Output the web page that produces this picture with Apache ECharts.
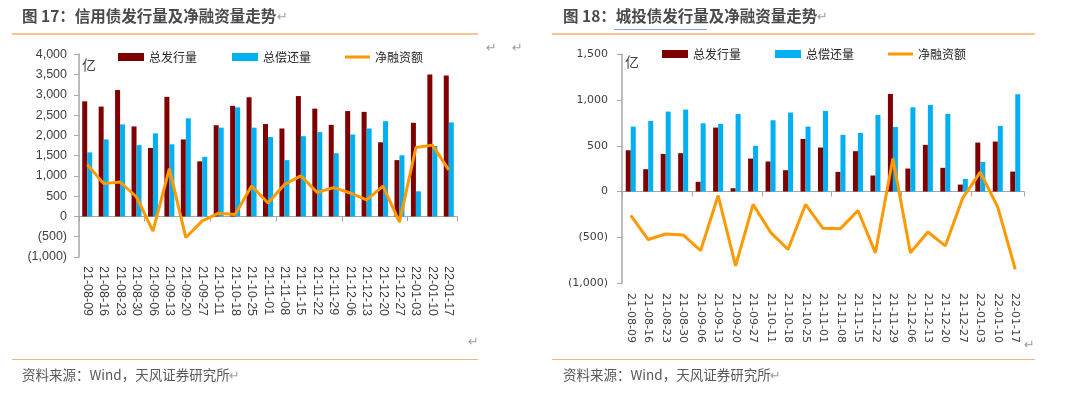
<!DOCTYPE html>
<html><head><meta charset="utf-8">
<script src="https://cdn.jsdelivr.net/npm/echarts@6/dist/echarts.min.js"></script>
<style>html,body{margin:0;padding:0;background:#fff}#c{width:1080px;height:397px}</style>
</head><body><div id="c"></div>
<script>
const categories = ['21-08-09','21-08-16','21-08-23','21-08-30','21-09-06','21-09-13','21-09-20','21-09-27','21-10-11','21-10-18','21-10-25','21-11-01','21-11-08','21-11-15','21-11-22','21-11-29','21-12-06','21-12-13','21-12-20','21-12-27','22-01-03','22-01-10','22-01-17'];
// 图17 信用债
const creditIssue = [2840,2710,3120,2220,1690,2950,1900,1360,2250,2730,2940,2280,2170,2970,2660,2260,2600,2580,1830,1390,2310,3500,3480];
const creditRepay = [1580,1900,2270,1760,2050,1780,2420,1470,2190,2690,2190,1960,1390,1980,2080,1560,2020,2170,2350,1510,620,1740,2320];
const creditNet = [1280,810,850,480,-360,1180,-520,-110,80,50,750,330,790,1000,590,710,580,410,750,-140,1700,1760,1150];
// 图18 城投债
const lgfvIssue = [451,244,411,419,106,699,36,360,328,233,575,481,215,441,175,1067,251,510,259,76,535,546,218];
const lgfvRepay = [710,772,874,896,746,739,848,499,779,863,710,881,619,641,837,706,921,947,848,138,324,717,1063];
const lgfvNet = [-261,-525,-464,-475,-645,-44,-812,-141,-446,-634,-141,-402,-406,-207,-670,360,-670,-442,-594,-69,211,-170,-851];
const seriesNames = ['总发行量','总偿还量','净融资额'];

const RED = '#7F0000', BLUE = '#00B0F0', ORANGE = '#FF9900';
function fmt(v){ const s = Math.abs(v).toLocaleString('en-US'); return v < 0 ? '(' + s + ')' : s; }

const chart = echarts.init(document.getElementById('c'));
const f1 = 'Liberation Sans', f2 = 'DejaVu Sans';
const legends = [];
const legText = {fontSize:12, color:'#262626', fontFamily:'Noto Sans CJK SC'};
function buildLegends(gi, pos){
  const sizes = [[26,8],[26,8],[25,3]];
  for (let k = 0; k < 3; k++) {
    legends.push({id:'l'+gi+k, left: pos[k][0], top: pos[k][1], padding:0, itemGap:0,
      itemWidth: sizes[k][0], itemHeight: sizes[k][1],
      data:[{name: seriesNames[k]+gi, icon:'rect'}],
      formatter: () => seriesNames[k], textStyle: legText, selectedMode:false});
  }
}
buildLegends(0, [[118,51],[232,51],[345,51]]);
buildLegends(1, [[662,48],[775,48],[888,48]]);

function xAxes(gi, ff, fs, margin){
  return [
    {gridIndex: gi, type:'category', data: categories, position:'bottom',
     axisLine:{show:true, onZero:true, lineStyle:{color:'#A6A6A6', width:1}},
     axisTick:{show:true, length:5, lineStyle:{color:'#A6A6A6'}}, axisLabel:{show:false}},
    {gridIndex: gi, type:'category', data: categories, position:'bottom',
     axisLine:{show:false, onZero:false}, axisTick:{show:false},
     axisLabel:{show:true, rotate:-90, interval:0, margin: margin, fontSize: fs, fontFamily: ff, color:'#404040'}}
  ];
}
function yAxis(gi, min, max, ff, fs, margin){
  return {gridIndex: gi, type:'value', min:min, max:max, interval:500,
    splitLine:{show:false},
    axisLine:{show:true, lineStyle:{color:'#A6A6A6', width:1.5}},
    axisTick:{show:true, length:5, lineStyle:{color:'#A6A6A6'}},
    axisLabel:{formatter: fmt, fontSize: fs, fontFamily: ff, color:'#404040', margin: margin}};
}
const xs = xAxes(0, f1, 12.5, 9).concat(xAxes(1, f2, 11, 10));
function series(gi, issue, repay, net){
  return [
    {name: seriesNames[0]+gi, type:'bar', xAxisIndex: gi*2, yAxisIndex: gi, data: issue, barWidth:5, barGap:'0%', itemStyle:{color:RED}},
    {name: seriesNames[1]+gi, type:'bar', xAxisIndex: gi*2, yAxisIndex: gi, data: repay, barWidth:5, barGap:'0%', itemStyle:{color:BLUE}},
    {name: seriesNames[2]+gi, type:'line', xAxisIndex: gi*2, yAxisIndex: gi, data: net, symbol:'none', lineStyle:{color:ORANGE, width:3}, itemStyle:{color:ORANGE}, z:5}
  ];
}
const titleStyle = {fontSize:15.5, fontWeight:'bold', fill:'#4a4a4a', fontFamily:'Noto Sans CJK SC'};
const grayMark = {fontSize:13, fill:'#A0A0A0', fontFamily:'DejaVu Sans'};
chart.setOption({
  animation:false,
  grid:[{left:79, top:54.3, width:378, height:202.7, containLabel:false},
        {left:622, top:54.3, width:402, height:228.7, containLabel:false}],
  legend: legends,
  xAxis: xs,
  yAxis: [yAxis(0,-1000,4000,f1,12.5,12), yAxis(1,-1000,1500,f2,11,14)],
  series: series(0, creditIssue, creditRepay, creditNet).concat(series(1, lgfvIssue, lgfvRepay, lgfvNet)),
  graphic: [
    {type:'text', left:22, top:8, style:Object.assign({text:'图 17：信用债发行量及净融资量走势'}, titleStyle)},
    {type:'text', left:277, top:11, style:Object.assign({text:'↵'}, grayMark)},
    {type:'line', shape:{x1:12,y1:34,x2:478,y2:34}, style:{stroke:'#F08A24', lineWidth:1}},
    {type:'text', left:82, top:58, style:{text:'亿', fontSize:14, fill:'#404040', fontFamily:'Noto Sans CJK SC'}},
    {type:'text', left:486, top:42, style:Object.assign({text:'↵'}, grayMark)},
    {type:'text', left:512, top:42, style:Object.assign({text:'↵'}, grayMark)},
    {type:'text', left:468, top:336, style:Object.assign({text:'↵'}, grayMark)},
    {type:'line', shape:{x1:12,y1:359.5,x2:478,y2:359.5}, style:{stroke:'#F5B282', lineWidth:1}},
    {type:'text', left:22, top:368, style:{text:'资料来源：Wind，天风证券研究所', fontSize:13.5, fill:'#595959', fontFamily:'Noto Sans CJK SC'}},
    {type:'text', left:229, top:370, style:Object.assign({text:'↵'}, grayMark)},

    {type:'text', left:563, top:8, style:Object.assign({text:'图 18：城投债发行量及净融资量走势'}, titleStyle)},
    {type:'line', shape:{x1:614,y1:29.5,x2:707,y2:29.5}, style:{stroke:'#7F9FE0', lineWidth:1}},
    {type:'text', left:817, top:11, style:Object.assign({text:'↵'}, grayMark)},
    {type:'line', shape:{x1:552,y1:34,x2:1035,y2:34}, style:{stroke:'#F08A24', lineWidth:1}},
    {type:'text', left:625, top:55, style:{text:'亿', fontSize:14, fill:'#404040', fontFamily:'Noto Sans CJK SC'}},
    {type:'text', left:1024, top:339, style:Object.assign({text:'↵'}, grayMark)},
    {type:'line', shape:{x1:552,y1:359.5,x2:1035,y2:359.5}, style:{stroke:'#F5B282', lineWidth:1}},
    {type:'text', left:563, top:368, style:{text:'资料来源：Wind，天风证券研究所', fontSize:13.5, fill:'#595959', fontFamily:'Noto Sans CJK SC'}},
    {type:'text', left:770, top:370, style:Object.assign({text:'↵'}, grayMark)}
  ]
});
</script></body></html>
